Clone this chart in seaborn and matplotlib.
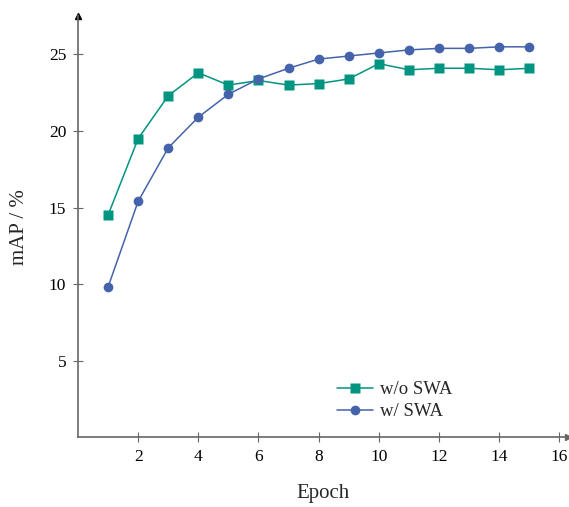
import matplotlib
matplotlib.use("Agg")
import matplotlib.pyplot as plt
import seaborn as sns
import pandas as pd

epochs = list(range(1, 16))
wo_swa = [14.5, 19.5, 22.3, 23.8, 23.0, 23.3, 23.0, 23.1, 23.4, 24.4, 24.0, 24.1, 24.1, 24.0, 24.1]
w_swa = [9.8, 15.4, 18.9, 20.9, 22.4, 23.4, 24.1, 24.7, 24.9, 25.1, 25.3, 25.4, 25.4, 25.5, 25.5]
series_names = ["w/o SWA", "w/ SWA"]
x_ticks = [2, 4, 6, 8, 10, 12, 14, 16]
y_ticks = [5, 10, 15, 20, 25]

sns.set_theme(style="white")
plt.rcParams['font.family'] = ['Liberation Serif', 'DejaVu Serif']

df = pd.DataFrame({
    "Epoch": epochs * 2,
    "mAP": wo_swa + w_swa,
    "Series": [series_names[0]] * len(epochs) + [series_names[1]] * len(epochs),
})

fig = plt.figure(figsize=(5.69, 5.07), dpi=100)
ax = fig.add_axes([0.137, 0.138, 0.862, 0.83])

palette = {"w/o SWA": "#009581", "w/ SWA": "#4563ab"}
sns.lineplot(data=df, x="Epoch", y="mAP", hue="Series", style="Series",
             markers={"w/o SWA": "s", "w/ SWA": "o"}, dashes=False,
             palette=palette, markersize=7, linewidth=1.1,
             markeredgecolor="none", ax=ax)

ax.set_xlim(0, 16.3)
ax.set_ylim(0, 27.5)
ax.set_xticks(x_ticks)
ax.set_yticks(y_ticks)
ax.tick_params(axis="both", direction="inout", length=7, width=0.8,
               color="#666666", labelsize=12.5, labelcolor="black", pad=5,
               bottom=True, left=True)
for s in ["top", "right"]:
    ax.spines[s].set_visible(False)
for s in ["left", "bottom"]:
    ax.spines[s].set_color("#666666")
    ax.spines[s].set_linewidth(1.2)

# axis arrows
ax.plot(0, 1, marker="^", color="black", markersize=4, transform=ax.transAxes, clip_on=False)
ax.plot(1, 0, marker=">", color="#666666", markersize=4, transform=ax.transAxes, clip_on=False)

ax.set_xlabel("Epoch", fontsize=15, labelpad=14)
ax.set_ylabel("mAP / %", fontsize=15, labelpad=14)

leg = ax.legend(frameon=False, loc="lower left", bbox_to_anchor=(0.494, 0.0),
                fontsize=13.5, handlelength=1.9, labelspacing=0.25, handletextpad=0.4)

fig.savefig("out.png", dpi=100)
